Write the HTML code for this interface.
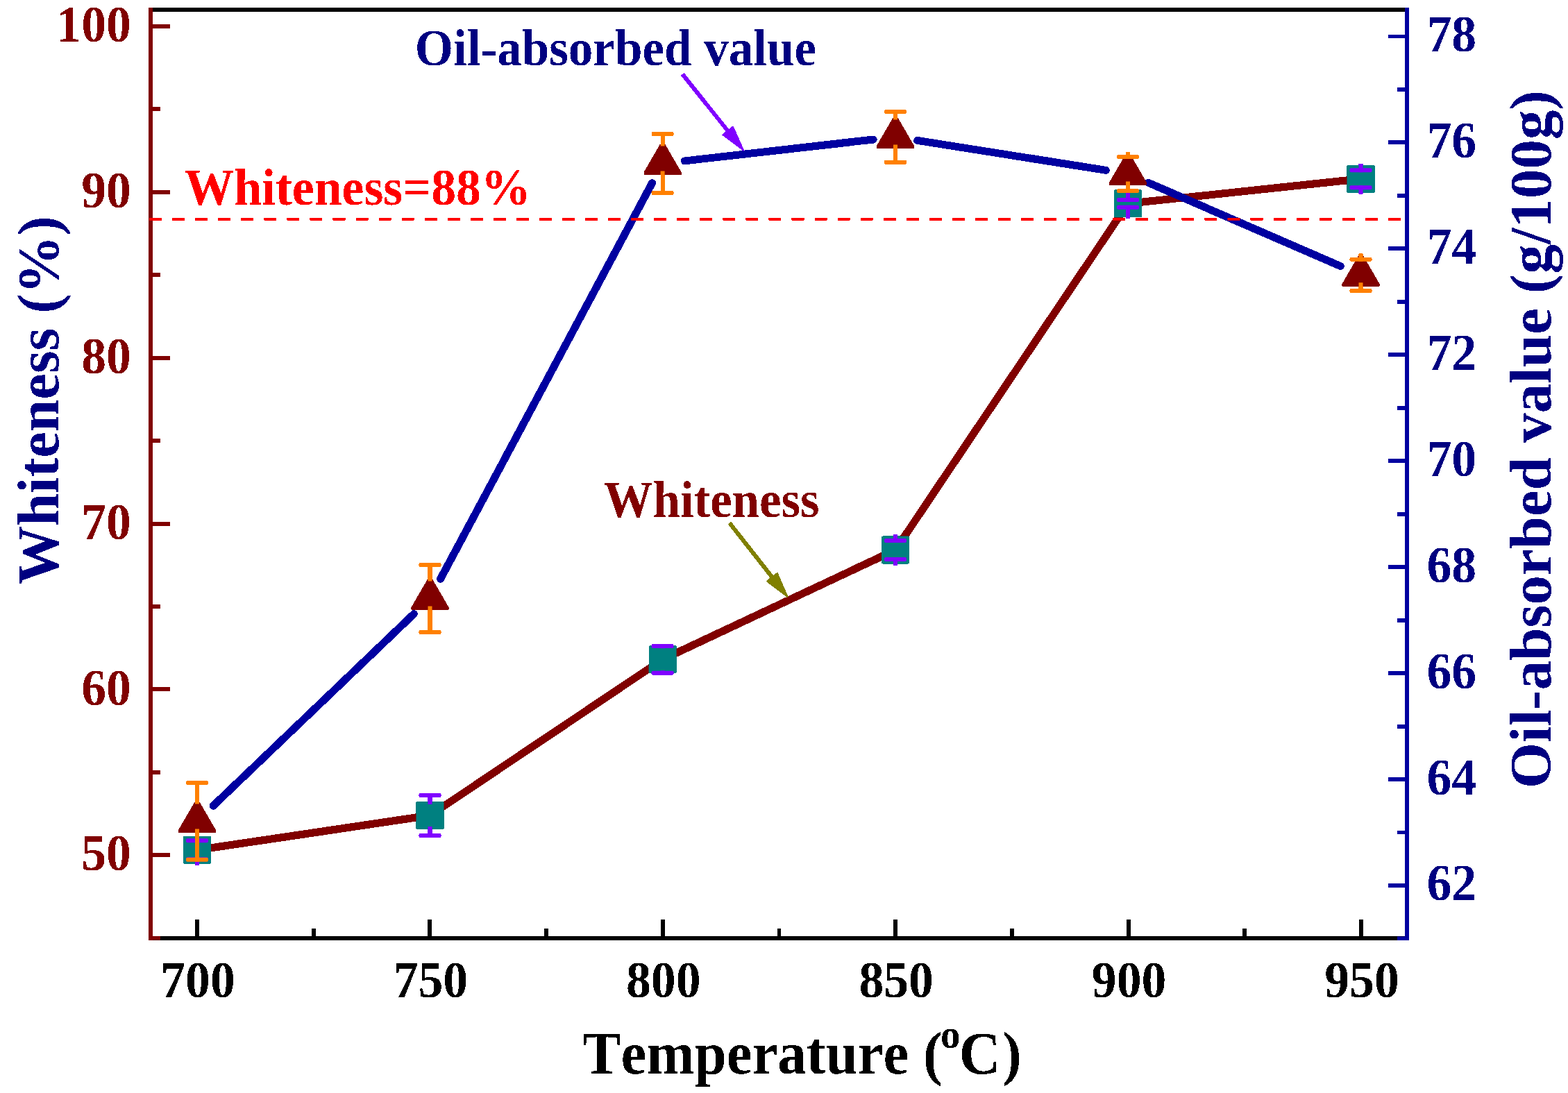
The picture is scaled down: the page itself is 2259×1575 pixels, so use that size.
<!DOCTYPE html>
<html><head><meta charset="utf-8"><style>html,body{margin:0;padding:0;background:#fff;}svg{display:block;}</style></head>
<body>
<svg width="2259" height="1575" viewBox="0 0 2259 1575">
<rect width="2259" height="1575" fill="#fff"/>
<defs><filter id="bin" x="0" y="0" width="2259" height="1575" filterUnits="userSpaceOnUse"><feComponentTransfer><feFuncA type="discrete" tableValues="0 1"/></feComponentTransfer></filter></defs>
<g filter="url(#bin)">
<line x1="217" y1="14" x2="2027" y2="14" stroke="#000" stroke-width="6"/>
<line x1="217" y1="1352" x2="2027" y2="1352" stroke="#000" stroke-width="6"/>
<line x1="284.0" y1="1352" x2="284.0" y2="1325" stroke="#000" stroke-width="6"/>
<line x1="619.4" y1="1352" x2="619.4" y2="1325" stroke="#000" stroke-width="6"/>
<line x1="954.8" y1="1352" x2="954.8" y2="1325" stroke="#000" stroke-width="6"/>
<line x1="1290.2" y1="1352" x2="1290.2" y2="1325" stroke="#000" stroke-width="6"/>
<line x1="1625.6" y1="1352" x2="1625.6" y2="1325" stroke="#000" stroke-width="6"/>
<line x1="1961.0" y1="1352" x2="1961.0" y2="1325" stroke="#000" stroke-width="6"/>
<line x1="451.7" y1="1352" x2="451.7" y2="1338" stroke="#000" stroke-width="6"/>
<line x1="787.1" y1="1352" x2="787.1" y2="1338" stroke="#000" stroke-width="6"/>
<line x1="1122.5" y1="1352" x2="1122.5" y2="1338" stroke="#000" stroke-width="6"/>
<line x1="1457.9" y1="1352" x2="1457.9" y2="1338" stroke="#000" stroke-width="6"/>
<line x1="1793.3" y1="1352" x2="1793.3" y2="1338" stroke="#000" stroke-width="6"/>
<line x1="217" y1="11" x2="217" y2="1355" stroke="#800000" stroke-width="6"/>
<line x1="217" y1="1232.3" x2="245" y2="1232.3" stroke="#800000" stroke-width="6"/>
<line x1="217" y1="993.4" x2="245" y2="993.4" stroke="#800000" stroke-width="6"/>
<line x1="217" y1="754.6" x2="245" y2="754.6" stroke="#800000" stroke-width="6"/>
<line x1="217" y1="515.7" x2="245" y2="515.7" stroke="#800000" stroke-width="6"/>
<line x1="217" y1="276.9" x2="245" y2="276.9" stroke="#800000" stroke-width="6"/>
<line x1="217" y1="38.0" x2="245" y2="38.0" stroke="#800000" stroke-width="6"/>
<line x1="217" y1="1351.7" x2="231" y2="1351.7" stroke="#800000" stroke-width="6"/>
<line x1="217" y1="1112.9" x2="231" y2="1112.9" stroke="#800000" stroke-width="6"/>
<line x1="217" y1="874.0" x2="231" y2="874.0" stroke="#800000" stroke-width="6"/>
<line x1="217" y1="635.1" x2="231" y2="635.1" stroke="#800000" stroke-width="6"/>
<line x1="217" y1="396.3" x2="231" y2="396.3" stroke="#800000" stroke-width="6"/>
<line x1="217" y1="157.4" x2="231" y2="157.4" stroke="#800000" stroke-width="6"/>
<line x1="2027" y1="11" x2="2027" y2="1355" stroke="#0000A0" stroke-width="6"/>
<line x1="2027" y1="1276.0" x2="2000" y2="1276.0" stroke="#0000A0" stroke-width="6"/>
<line x1="2027" y1="1123.1" x2="2000" y2="1123.1" stroke="#0000A0" stroke-width="6"/>
<line x1="2027" y1="970.1" x2="2000" y2="970.1" stroke="#0000A0" stroke-width="6"/>
<line x1="2027" y1="817.2" x2="2000" y2="817.2" stroke="#0000A0" stroke-width="6"/>
<line x1="2027" y1="664.2" x2="2000" y2="664.2" stroke="#0000A0" stroke-width="6"/>
<line x1="2027" y1="511.3" x2="2000" y2="511.3" stroke="#0000A0" stroke-width="6"/>
<line x1="2027" y1="358.4" x2="2000" y2="358.4" stroke="#0000A0" stroke-width="6"/>
<line x1="2027" y1="205.4" x2="2000" y2="205.4" stroke="#0000A0" stroke-width="6"/>
<line x1="2027" y1="52.5" x2="2000" y2="52.5" stroke="#0000A0" stroke-width="6"/>
<line x1="2027" y1="1352.5" x2="2013" y2="1352.5" stroke="#0000A0" stroke-width="6"/>
<line x1="2027" y1="1199.5" x2="2013" y2="1199.5" stroke="#0000A0" stroke-width="6"/>
<line x1="2027" y1="1046.6" x2="2013" y2="1046.6" stroke="#0000A0" stroke-width="6"/>
<line x1="2027" y1="893.6" x2="2013" y2="893.6" stroke="#0000A0" stroke-width="6"/>
<line x1="2027" y1="740.7" x2="2013" y2="740.7" stroke="#0000A0" stroke-width="6"/>
<line x1="2027" y1="587.8" x2="2013" y2="587.8" stroke="#0000A0" stroke-width="6"/>
<line x1="2027" y1="434.8" x2="2013" y2="434.8" stroke="#0000A0" stroke-width="6"/>
<line x1="2027" y1="281.9" x2="2013" y2="281.9" stroke="#0000A0" stroke-width="6"/>
<line x1="2027" y1="129.0" x2="2013" y2="129.0" stroke="#0000A0" stroke-width="6"/>
<polyline points="284.0,1224.8 619.5,1175.0 954.6,950.3 1290.0,792.5 1625.0,293.3 1960.5,257.7" fill="none" stroke="#800000" stroke-width="11" stroke-linejoin="round"/>
<rect x="264.0" y="1204.8" width="40" height="40" rx="1.5" fill="#008080"/>
<rect x="599.5" y="1155.0" width="40" height="40" rx="1.5" fill="#008080"/>
<rect x="934.6" y="930.3" width="40" height="40" rx="1.5" fill="#008080"/>
<rect x="1270.0" y="772.5" width="40" height="40" rx="1.5" fill="#008080"/>
<rect x="1605.0" y="273.3" width="40" height="40" rx="1.5" fill="#008080"/>
<rect x="1940.5" y="237.7" width="40" height="40" rx="1.5" fill="#008080"/>
<path d="M284.0,1205.8V1211.3M284.0,1243.8V1238.3" stroke="#8000FF" stroke-width="6" stroke-linecap="square" fill="none"/><rect x="268.0" y="1208.3" width="32" height="6" rx="2" fill="#8000FF"/><rect x="268.0" y="1235.3" width="32" height="6" rx="2" fill="#8000FF"/>
<path d="M619.5,1156.0V1146.0M619.5,1194.0V1204.0" stroke="#8000FF" stroke-width="6" stroke-linecap="square" fill="none"/><rect x="603.5" y="1143.0" width="32" height="6" rx="2" fill="#8000FF"/><rect x="603.5" y="1201.0" width="32" height="6" rx="2" fill="#8000FF"/>
<path d="M954.6,931.3V930.9M954.6,969.3V969.7" stroke="#8000FF" stroke-width="6" stroke-linecap="square" fill="none"/><rect x="938.6" y="927.9" width="32" height="6" rx="2" fill="#8000FF"/><rect x="938.6" y="966.7" width="32" height="6" rx="2" fill="#8000FF"/>
<path d="M1290.0,773.5V778.9M1290.0,811.5V806.1" stroke="#8000FF" stroke-width="6" stroke-linecap="square" fill="none"/><rect x="1274.0" y="775.9" width="32" height="6" rx="2" fill="#8000FF"/><rect x="1274.0" y="803.1" width="32" height="6" rx="2" fill="#8000FF"/>
<path d="M1625.0,274.3V287.9M1625.0,312.3V298.7" stroke="#8000FF" stroke-width="6" stroke-linecap="square" fill="none"/><rect x="1609.0" y="284.9" width="32" height="6" rx="2" fill="#8000FF"/><rect x="1609.0" y="295.7" width="32" height="6" rx="2" fill="#8000FF"/>
<path d="M1960.5,238.7V245.2M1960.5,276.7V270.2" stroke="#8000FF" stroke-width="6" stroke-linecap="square" fill="none"/><rect x="1944.5" y="242.2" width="32" height="6" rx="2" fill="#8000FF"/><rect x="1944.5" y="267.2" width="32" height="6" rx="2" fill="#8000FF"/>
<line x1="307.1" y1="1161.3" x2="596.4" y2="884.5" stroke="#0000A0" stroke-width="11" stroke-linecap="round"/>
<line x1="634.6" y1="834.2" x2="939.5" y2="263.7" stroke="#0000A0" stroke-width="11" stroke-linecap="round"/>
<line x1="986.4" y1="231.9" x2="1258.2" y2="201.0" stroke="#0000A0" stroke-width="11" stroke-linecap="round"/>
<line x1="1321.6" y1="202.4" x2="1593.4" y2="245.4" stroke="#0000A0" stroke-width="11" stroke-linecap="round"/>
<line x1="1654.3" y1="263.2" x2="1931.2" y2="383.5" stroke="#0000A0" stroke-width="11" stroke-linecap="round"/>
<path d="M257.0,1199.8L257.0,1196.0L280.2,1156.0L287.8,1156.0L311.0,1196.0L311.0,1199.8Z" fill="#800000"/>
<path d="M592.5,878.8L592.5,875.0L615.7,835.0L623.3,835.0L646.5,875.0L646.5,878.8Z" fill="#800000"/>
<path d="M927.6,251.9L927.6,248.1L950.8,208.1L958.4,208.1L981.6,248.1L981.6,251.9Z" fill="#800000"/>
<path d="M1263.0,213.8L1263.0,210.0L1286.2,170.0L1293.8,170.0L1317.0,210.0L1317.0,213.8Z" fill="#800000"/>
<path d="M1598.0,266.8L1598.0,263.0L1621.2,223.0L1628.8,223.0L1652.0,263.0L1652.0,266.8Z" fill="#800000"/>
<path d="M1933.5,412.7L1933.5,408.9L1956.7,368.9L1964.3,368.9L1987.5,408.9L1987.5,412.7Z" fill="#800000"/>
<path d="M284.0,1155.4V1128.1M284.0,1197.4V1238.7" stroke="#FF8000" stroke-width="6" stroke-linecap="square" fill="none"/><rect x="268.0" y="1125.1" width="32" height="6" rx="2" fill="#FF8000"/><rect x="268.0" y="1235.7" width="32" height="6" rx="2" fill="#FF8000"/>
<path d="M619.5,834.4V813.9M619.5,876.4V910.9" stroke="#FF8000" stroke-width="6" stroke-linecap="square" fill="none"/><rect x="603.5" y="810.9" width="32" height="6" rx="2" fill="#FF8000"/><rect x="603.5" y="907.9" width="32" height="6" rx="2" fill="#FF8000"/>
<path d="M954.6,207.5V193.0M954.6,249.5V278.0" stroke="#FF8000" stroke-width="6" stroke-linecap="square" fill="none"/><rect x="938.6" y="190.0" width="32" height="6" rx="2" fill="#FF8000"/><rect x="938.6" y="275.0" width="32" height="6" rx="2" fill="#FF8000"/>
<path d="M1290.0,169.4V161.0M1290.0,211.4V233.8" stroke="#FF8000" stroke-width="6" stroke-linecap="square" fill="none"/><rect x="1274.0" y="158.0" width="32" height="6" rx="2" fill="#FF8000"/><rect x="1274.0" y="230.8" width="32" height="6" rx="2" fill="#FF8000"/>
<path d="M1625.0,222.4V225.9M1625.0,264.4V274.9" stroke="#FF8000" stroke-width="6" stroke-linecap="square" fill="none"/><rect x="1609.0" y="222.9" width="32" height="6" rx="2" fill="#FF8000"/><rect x="1609.0" y="271.9" width="32" height="6" rx="2" fill="#FF8000"/>
<path d="M1960.5,368.3V373.7M1960.5,410.3V418.9" stroke="#FF8000" stroke-width="6" stroke-linecap="square" fill="none"/><rect x="1944.5" y="370.7" width="32" height="6" rx="2" fill="#FF8000"/><rect x="1944.5" y="415.9" width="32" height="6" rx="2" fill="#FF8000"/>
<line x1="215.1" y1="315.9" x2="2018" y2="315.9" stroke="#FF0000" stroke-width="3.8" stroke-dasharray="18 15.05"/>
<line x1="983.2" y1="106.9" x2="1049.7" y2="190.0" stroke="#8000FF" stroke-width="6"/><path d="M1071.0,216.5L1041.1,194.3L1055.9,182.5Z" fill="#8000FF" stroke="#8000FF" stroke-width="2" stroke-linejoin="round"/>
<line x1="1051.0" y1="753.5" x2="1113.5" y2="833.2" stroke="#808000" stroke-width="6"/><path d="M1134.5,860.0L1104.8,837.5L1119.8,825.8Z" fill="#808000" stroke="#808000" stroke-width="2" stroke-linejoin="round"/>
<text transform="translate(188.8246,1254.4) scale(1,1.035)" font-family="Liberation Serif, serif" font-weight="bold" style="font-kerning:none" font-size="71.7" fill="#800000" text-anchor="end">50</text>
<text transform="translate(188.8246,1015.6) scale(1,1.035)" font-family="Liberation Serif, serif" font-weight="bold" style="font-kerning:none" font-size="71.7" fill="#800000" text-anchor="end">60</text>
<text transform="translate(188.8246,776.7) scale(1,1.035)" font-family="Liberation Serif, serif" font-weight="bold" style="font-kerning:none" font-size="71.7" fill="#800000" text-anchor="end">70</text>
<text transform="translate(188.8246,537.9) scale(1,1.035)" font-family="Liberation Serif, serif" font-weight="bold" style="font-kerning:none" font-size="71.7" fill="#800000" text-anchor="end">80</text>
<text transform="translate(188.8246,299.0) scale(1,1.035)" font-family="Liberation Serif, serif" font-weight="bold" style="font-kerning:none" font-size="71.7" fill="#800000" text-anchor="end">90</text>
<text transform="translate(188.8246,60.1) scale(1,1.035)" font-family="Liberation Serif, serif" font-weight="bold" style="font-kerning:none" font-size="71.7" fill="#800000" text-anchor="end">100</text>
<text transform="translate(2055.5131,1297.4) scale(1,1.035)" font-family="Liberation Serif, serif" font-weight="bold" style="font-kerning:none" font-size="71.7" fill="#000080" text-anchor="start">62</text>
<text transform="translate(2055.5131,1144.5) scale(1,1.035)" font-family="Liberation Serif, serif" font-weight="bold" style="font-kerning:none" font-size="71.7" fill="#000080" text-anchor="start">64</text>
<text transform="translate(2055.5131,991.6) scale(1,1.035)" font-family="Liberation Serif, serif" font-weight="bold" style="font-kerning:none" font-size="71.7" fill="#000080" text-anchor="start">66</text>
<text transform="translate(2055.5131,838.6) scale(1,1.035)" font-family="Liberation Serif, serif" font-weight="bold" style="font-kerning:none" font-size="71.7" fill="#000080" text-anchor="start">68</text>
<text transform="translate(2055.5131,685.7) scale(1,1.035)" font-family="Liberation Serif, serif" font-weight="bold" style="font-kerning:none" font-size="71.7" fill="#000080" text-anchor="start">70</text>
<text transform="translate(2055.5131,532.7) scale(1,1.035)" font-family="Liberation Serif, serif" font-weight="bold" style="font-kerning:none" font-size="71.7" fill="#000080" text-anchor="start">72</text>
<text transform="translate(2055.5131,379.8) scale(1,1.035)" font-family="Liberation Serif, serif" font-weight="bold" style="font-kerning:none" font-size="71.7" fill="#000080" text-anchor="start">74</text>
<text transform="translate(2055.5131,226.9) scale(1,1.035)" font-family="Liberation Serif, serif" font-weight="bold" style="font-kerning:none" font-size="71.7" fill="#000080" text-anchor="start">76</text>
<text transform="translate(2055.5131,73.9) scale(1,1.035)" font-family="Liberation Serif, serif" font-weight="bold" style="font-kerning:none" font-size="71.7" fill="#000080" text-anchor="start">78</text>
<text transform="translate(285.0,1436.89734) scale(1,1.035)" font-family="Liberation Serif, serif" font-weight="bold" style="font-kerning:none" font-size="71.7" fill="#000" text-anchor="middle">700</text>
<text transform="translate(620.4,1436.89734) scale(1,1.035)" font-family="Liberation Serif, serif" font-weight="bold" style="font-kerning:none" font-size="71.7" fill="#000" text-anchor="middle">750</text>
<text transform="translate(955.8,1436.89734) scale(1,1.035)" font-family="Liberation Serif, serif" font-weight="bold" style="font-kerning:none" font-size="71.7" fill="#000" text-anchor="middle">800</text>
<text transform="translate(1291.2,1436.89734) scale(1,1.035)" font-family="Liberation Serif, serif" font-weight="bold" style="font-kerning:none" font-size="71.7" fill="#000" text-anchor="middle">850</text>
<text transform="translate(1626.6,1436.89734) scale(1,1.035)" font-family="Liberation Serif, serif" font-weight="bold" style="font-kerning:none" font-size="71.7" fill="#000" text-anchor="middle">900</text>
<text transform="translate(1962.0,1436.89734) scale(1,1.035)" font-family="Liberation Serif, serif" font-weight="bold" style="font-kerning:none" font-size="71.7" fill="#000" text-anchor="middle">950</text>
<text transform="translate(265.38115,295.3) scale(1,1.03)" font-family="Liberation Serif, serif" font-weight="bold" style="font-kerning:none" font-size="71.75" fill="#FF0000" text-anchor="start">Whiteness=88%</text>
<text transform="translate(597.7322720000001,94.0) scale(1,1.04)" font-family="Liberation Serif, serif" font-weight="bold" style="font-kerning:none" font-size="71.06" fill="#000080" text-anchor="start">Oil-absorbed value</text>
<text transform="translate(869.79464,745.0) scale(1,1.04)" font-family="Liberation Serif, serif" font-weight="bold" style="font-kerning:none" font-size="70.8" fill="#800000" text-anchor="start">Whiteness</text>
<text transform="translate(84.0,842.19564) rotate(-90)" font-family="Liberation Serif, serif" font-weight="bold" style="font-kerning:none" font-size="84.2" fill="#000080" text-anchor="start">Whiteness (%)</text>
<text transform="translate(2234.0,1136.148) rotate(-90)" font-family="Liberation Serif, serif" font-weight="bold" style="font-kerning:none" font-size="85.0" fill="#000080" text-anchor="start">Oil-absorbed value (g/100g)</text>
<text transform="translate(839.2,1547.0) scale(1,1.04)" font-family="Liberation Serif, serif" font-weight="bold" style="font-kerning:none" font-size="83" fill="#000">Temperature (<tspan font-size="57" dx="-2.7" dy="-36">o</tspan><tspan dx="-1.7" dy="36">C</tspan><tspan dx="2.3">)</tspan></text>
</g>
</svg>
</body></html>
